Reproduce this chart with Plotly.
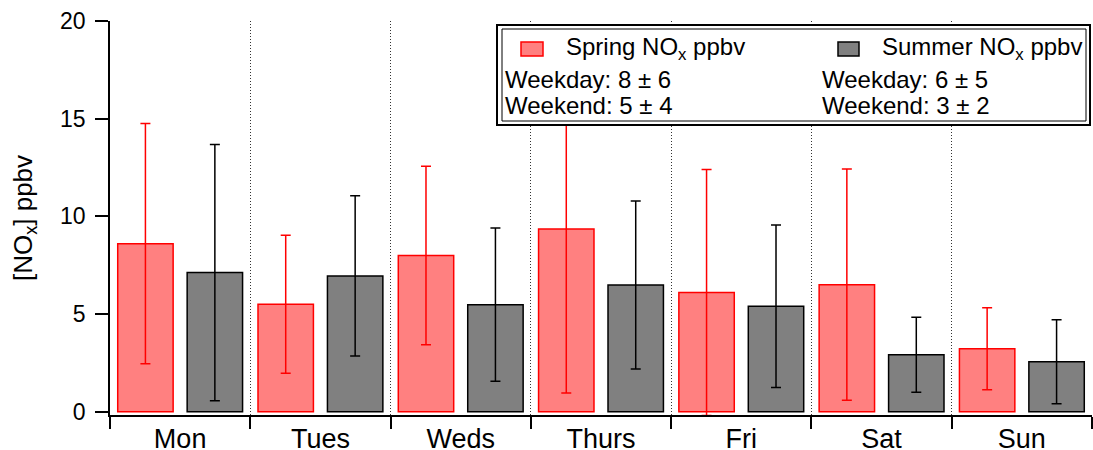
import plotly.graph_objects as go

# ---- data ----
days = ["Mon", "Tues", "Weds", "Thurs", "Fri", "Sat", "Sun"]
spring = [8.6, 5.5, 8.0, 9.35, 6.1, 6.5, 3.22]
spring_err = [6.15, 3.53, 4.57, 8.4, 6.3, 5.92, 2.1]
summer = [7.12, 6.95, 5.48, 6.48, 5.4, 2.92, 2.55]
summer_err = [6.56, 4.1, 3.92, 4.3, 4.16, 1.92, 2.15]
y_ticks = [0, 5, 10, 15, 20]
series_names = ["Spring NO<sub>x</sub> ppbv", "Summer NO<sub>x</sub> ppbv"]
spring_stats = ["Weekday: 8 ± 6", "Weekend: 5 ± 4"]
summer_stats = ["Weekday: 6 ± 5", "Weekend: 3 ± 2"]

W, H = 1093, 450
ML, MR, MT, MB = 110, 1, 21, 35
PW, PH = W - ML - MR, H - MT - MB
FONT = "Liberation Sans, Arial, Helvetica, sans-serif"


def px(x):
    return (x - ML) / PW


def py(y):
    return (MT + PH - y) / PH


fig = go.Figure()
fig.add_trace(go.Bar(
    x=days, y=spring, name=series_names[0], width=0.395, offset=-0.445,
    marker=dict(color="#FF8080", line=dict(color="#FF0000", width=1.5)),
    error_y=dict(type="data", array=spring_err, visible=True,
                 color="#FF0000", thickness=1.5, width=5),
    showlegend=False,
))
fig.add_trace(go.Bar(
    x=days, y=summer, name=series_names[1], width=0.395, offset=0.05,
    marker=dict(color="#808080", line=dict(color="#000000", width=1.5)),
    error_y=dict(type="data", array=summer_err, visible=True,
                 color="#000000", thickness=1.5, width=5),
    showlegend=False,
))

# ---- legend box (double border) ----
shapes = [
    dict(type="rect", xref="paper", yref="paper", layer="above",
         x0=px(497), x1=px(1090), y0=py(25), y1=py(125),
         line=dict(color="black", width=2), fillcolor="white"),
    dict(type="rect", xref="paper", yref="paper", layer="above",
         x0=px(502), x1=px(1086), y0=py(29), y1=py(121),
         line=dict(color="black", width=1)),
    dict(type="rect", xref="paper", yref="paper", layer="above",
         x0=px(521), x1=px(543), y0=py(42), y1=py(56),
         line=dict(color="#FF0000", width=1.5), fillcolor="#FF8080"),
    dict(type="rect", xref="paper", yref="paper", layer="above",
         x0=px(838), x1=px(859), y0=py(42), y1=py(56),
         line=dict(color="black", width=1.5), fillcolor="#808080"),
]
annotations = []
legend_text = [
    (564, 48, series_names[0]), (880, 48, series_names[1]),
    (503, 80, spring_stats[0]), (503, 105.5, spring_stats[1]),
    (820, 80, summer_stats[0]), (820, 105.5, summer_stats[1]),
]
for x, y, t in legend_text:
    annotations.append(dict(
        xref="paper", yref="paper", x=px(x), y=py(y), text=t,
        xanchor="left", yanchor="middle", showarrow=False,
        font=dict(family=FONT, size=24, color="black"),
    ))

fig.update_layout(
    width=W, height=H,
    margin=dict(l=ML, r=MR, t=MT, b=MB, autoexpand=False),
    paper_bgcolor="white", plot_bgcolor="white",
    barmode="overlay",
    font=dict(family=FONT, color="black"),
    shapes=shapes, annotations=annotations,
    xaxis=dict(
        type="category", categoryorder="array", categoryarray=days,
        range=[-0.5, 6.5], tickson="boundaries",
        ticks="outside", ticklen=12, tickwidth=1.5, tickcolor="black",
        showline=True, linecolor="black", linewidth=1.5,
        showgrid=True, gridcolor="#333333", gridwidth=1, griddash="1px,2px",
        tickfont=dict(family=FONT, size=27, color="black"),
        ticklabelstandoff=-1,
    ),
    yaxis=dict(
        range=[-0.17, 20], tickvals=y_ticks,
        ticks="outside", ticklen=13, tickwidth=1.5, tickcolor="black",
        showline=True, linecolor="black", linewidth=1.5,
        showgrid=False, zeroline=False,
        tickfont=dict(family=FONT, size=23, color="black"),
        ticklabelstandoff=5,
        title=dict(text="[NO<sub>x</sub>] ppbv",
                   font=dict(family=FONT, size=26, color="black"),
                   standoff=20),
    ),
)

fig.write_html(
    "out.html",
    config={"displayModeBar": False},
    post_script="document.body.style.margin='0';"
                "document.body.style.overflow='hidden';",
)
